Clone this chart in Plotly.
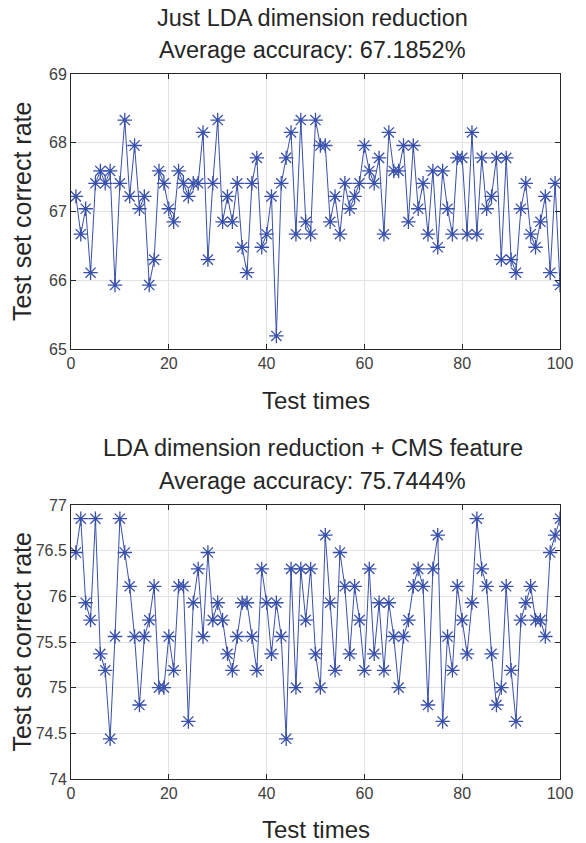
import plotly.graph_objects as go

test_times = list(range(1, 101))

acc_lda = [
    67.22, 66.67, 67.04, 66.11, 67.41, 67.59, 67.41, 67.59, 65.93, 67.41,
    68.33, 67.22, 67.96, 67.04, 67.22, 65.93, 66.30, 67.59, 67.41, 67.04,
    66.85, 67.59, 67.41, 67.22, 67.41, 67.41, 68.15, 66.30, 67.41, 68.33,
    66.85, 67.22, 66.85, 67.41, 66.48, 66.11, 67.41, 67.78, 66.48, 66.67,
    67.22, 65.19, 67.41, 67.78, 68.15, 66.67, 68.33, 66.85, 66.67, 68.33,
    67.96, 67.96, 66.85, 67.22, 66.67, 67.41, 67.04, 67.22, 67.41, 67.96,
    67.59, 67.41, 67.78, 66.67, 68.15, 67.59, 67.59, 67.96, 66.85, 67.96,
    67.04, 67.41, 66.67, 67.59, 66.48, 67.59, 67.04, 66.67, 67.78, 67.78,
    66.67, 68.15, 66.67, 67.78, 67.04, 67.22, 67.78, 66.30, 67.78, 66.30,
    66.11, 67.04, 67.41, 66.67, 66.48, 66.85, 67.22, 66.11, 67.41, 65.93,
]

acc_lda_cms = [
    76.48, 76.85, 75.93, 75.74, 76.85, 75.37, 75.19, 74.44, 75.56, 76.85,
    76.48, 76.11, 75.56, 74.81, 75.56, 75.74, 76.11, 75.00, 75.00, 75.56,
    75.19, 76.11, 76.11, 74.63, 75.93, 76.30, 75.56, 76.48, 75.74, 75.93,
    75.74, 75.37, 75.19, 75.56, 75.93, 75.93, 75.56, 75.19, 76.30, 75.93,
    75.37, 75.93, 75.56, 74.44, 76.30, 75.00, 76.30, 75.74, 76.30, 75.37,
    75.00, 76.67, 75.93, 75.19, 76.48, 76.11, 75.37, 76.11, 75.74, 75.19,
    76.30, 75.37, 75.93, 75.19, 75.93, 75.56, 75.00, 75.56, 75.74, 76.11,
    76.30, 76.11, 74.81, 76.30, 76.67, 74.63, 75.56, 75.19, 76.11, 75.74,
    75.37, 75.93, 76.85, 76.30, 76.11, 75.37, 74.81, 75.00, 76.11, 75.19,
    74.63, 75.74, 75.93, 76.11, 75.74, 75.74, 75.56, 76.48, 76.67, 76.85,
]

x_ticks = [0, 20, 40, 60, 80, 100]
y_ticks_top = [65, 66, 67, 68, 69]
y_ticks_bottom = [74, 74.5, 75, 75.5, 76, 76.5, 77]

titles_top = ["Just LDA dimension reduction", "Average accuracy: 67.1852%"]
titles_bottom = ["LDA dimension reduction + CMS feature", "Average accuracy: 75.7444%"]
x_label = "Test times"
y_label = "Test set correct rate"

W, H = 586, 843
L, R, T, B = 70.5, 560.5, 74, 779
FONT = "Liberation Sans, Arial, sans-serif"
TXT = "#262626"
BLUE = "rgb(57,80,170)"

def py(px):
    return (B - px) / (B - T)

def pxx(px):
    return (px - L) / (R - L)

fig = go.Figure()
for data, xa, ya in [(acc_lda, "x", "y"), (acc_lda_cms, "x2", "y2")]:
    fig.add_trace(go.Scatter(
        x=test_times, y=data, xaxis=xa, yaxis=ya, mode="lines+markers",
        line=dict(color=BLUE, width=1),
        marker=dict(symbol="asterisk-open", size=12, color=BLUE,
                    line=dict(color=BLUE, width=1.3)),
        showlegend=False, hoverinfo="x+y",
    ))

axis_common = dict(
    showline=True, linecolor=TXT, linewidth=1, mirror="ticks",
    ticks="inside", ticklen=5, tickcolor=TXT, tickwidth=1,
    showgrid=True, gridcolor="#e2e2e2", gridwidth=1, zeroline=False,
    tickfont=dict(family=FONT, size=16, color="#404040"),
)

top_dom = [py(349), 1.0]
bot_dom = [0.0, py(505)]

fig.update_layout(
    width=W, height=H,
    margin=dict(l=L, r=W - R, t=T, b=H - B, pad=0),
    paper_bgcolor="white", plot_bgcolor="white",
    xaxis=dict(domain=[0, 1], anchor="y", range=[0, 100], tickvals=x_ticks, **axis_common),
    yaxis=dict(domain=top_dom, anchor="x", range=[65, 69], tickvals=y_ticks_top, **axis_common),
    xaxis2=dict(domain=[0, 1], anchor="y2", range=[0, 100], tickvals=x_ticks, **axis_common),
    yaxis2=dict(domain=bot_dom, anchor="x2", range=[74, 77], tickvals=y_ticks_bottom, **axis_common),
)

ann = []
def text_ann(text, xpx, ypx, size, angle=0):
    ann.append(dict(text=text, xref="paper", yref="paper", x=pxx(xpx), y=py(ypx),
                    xanchor="center", yanchor="middle", showarrow=False, textangle=angle,
                    font=dict(family=FONT, size=size, color=TXT)))

cx = (L + R) / 2
text_ann(titles_top[0], cx - 3, 18, 23.5)
text_ann(titles_top[1], cx - 3, 50, 23.5)
text_ann(x_label, cx, 400, 24)
text_ann(y_label, 21, (74 + 349) / 2, 25, -90)

text_ann(titles_bottom[0], cx - 3, 448, 23.5)
text_ann(titles_bottom[1], cx - 3, 481, 23.5)
text_ann(x_label, cx, 829, 24)
text_ann(y_label, 21, (505 + 779) / 2, 25, -90)

fig.update_layout(annotations=ann)
fig.write_html("out.html")
